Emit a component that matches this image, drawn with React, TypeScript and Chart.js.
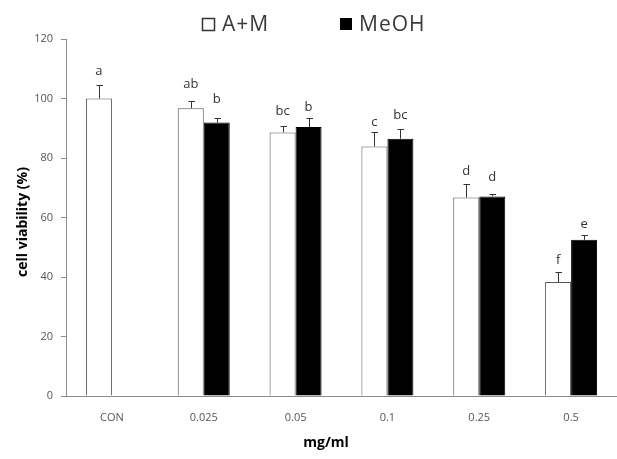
import React, { useEffect, useRef } from "react";
import { Chart, registerables } from "chart.js";

Chart.register(...registerables);

const categories = ["CON", "0.025", "0.05", "0.1", "0.25", "0.5"];
const seriesNames = ["A+M", "MeOH"];
const amValues = [100, 96.7, 88.6, 83.9, 66.7, 38.3];
const amErrors = [4.4, 2.3, 2.0, 4.7, 4.5, 3.5];
const meohValues = [null, 91.9, 90.4, 86.5, 67.1, 52.5];
const meohErrors = [null, 1.7, 3.2, 3.4, 0.8, 1.7];
const amLetters = ["a", "ab", "bc", "c", "d", "f"];
const meohLetters = [null, "b", "b", "bc", "d", "e"];
const amLetterAt = [109.3, 104.8, 95.6, 91.9, 75.4, 45.5];
const meohLetterAt = [null, 99.9, 96.9, 94.5, 73.4, 57.8];
const yMin = 0;
const yMax = 120;
const yStep = 20;
const yTitle = "cell viability (%)";
const xTitle = "mg/ml";

const FONT = "'Open Sans', 'Noto Sans', sans-serif";

const annotatePlugin = {
  id: "annotate",
  afterDatasetsDraw(chart: any) {
    const ctx = chart.ctx;
    const ys = chart.scales.y;
    const sets: any[] = [
      [amValues, amErrors, amLetters, amLetterAt],
      [meohValues, meohErrors, meohLetters, meohLetterAt],
    ];
    ctx.save();
    sets.forEach(([vals, errs, letters, at], di) => {
      const meta = chart.getDatasetMeta(di);
      meta.data.forEach((bar: any, i: number) => {
        const v = vals[i];
        if (v == null) return;
        const x = Math.round(bar.x) + 0.5;
        const top = ys.getPixelForValue(v);
        const cap = Math.round(ys.getPixelForValue(v + errs[i])) + 0.5;
        ctx.strokeStyle = "#333333";
        ctx.lineWidth = 1;
        ctx.beginPath();
        ctx.moveTo(x, top);
        ctx.lineTo(x, cap);
        ctx.moveTo(x - 3, cap);
        ctx.lineTo(x + 3.5, cap);
        ctx.stroke();
        if (letters[i]) {
          ctx.fillStyle = "#333333";
          ctx.font = `13px ${FONT}`;
          ctx.textAlign = "center";
          ctx.textBaseline = "middle";
          ctx.fillText(letters[i], bar.x, ys.getPixelForValue(at[i]));
        }
      });
    });
    ctx.restore();
  },
  afterDraw(chart: any) {
    const ctx = chart.ctx;
    ctx.save();
    // legend
    ctx.font = `21px ${FONT}`;
    try {
      (ctx as any).letterSpacing = "1px";
    } catch (e) {}
    ctx.textBaseline = "middle";
    ctx.textAlign = "left";
    ctx.fillStyle = "#ffffff";
    ctx.strokeStyle = "#333333";
    ctx.lineWidth = 1.5;
    ctx.fillRect(202.5, 18.5, 12, 12);
    ctx.strokeRect(202.5, 18.5, 12, 12);
    ctx.fillStyle = "#3a3a3a";
    ctx.fillText(seriesNames[0], 222, 25);
    ctx.fillStyle = "#000000";
    ctx.fillRect(340, 18, 12, 12);
    ctx.fillStyle = "#3a3a3a";
    ctx.fillText(seriesNames[1], 359, 25);
    try {
      (ctx as any).letterSpacing = "0px";
    } catch (e) {}
    // axis titles
    ctx.fillStyle = "#000000";
    ctx.font = `bold 14px ${FONT}`;
    ctx.textAlign = "center";
    ctx.fillText(xTitle, 326, 443);
    ctx.translate(23, 222);
    ctx.rotate(-Math.PI / 2);
    ctx.fillText(yTitle, 0, 0);
    ctx.restore();
  },
};

export default function App() {
  const ref = useRef<HTMLCanvasElement | null>(null);
  useEffect(() => {
    if (!ref.current) return;
    const chart = new Chart(ref.current, {
      type: "bar",
      data: {
        labels: categories,
        datasets: [
          {
            label: seriesNames[0],
            data: amValues,
            backgroundColor: "#ffffff",
            borderColor: "#555555",
            borderWidth: 1,
            categoryPercentage: 0.566,
            barPercentage: 1,
          },
          {
            label: seriesNames[1],
            data: meohValues as any,
            backgroundColor: "#000000",
            borderColor: "#000000",
            borderWidth: 1,
            categoryPercentage: 0.566,
            barPercentage: 1,
          },
        ],
      },
      options: {
        animation: false,
        responsive: false,
        devicePixelRatio: 1,
        layout: { padding: { top: 39, left: 0, right: 0, bottom: 0 } },
        plugins: { legend: { display: false }, tooltip: { enabled: false } },
        scales: {
          x: {
            afterFit: (s: any) => {
              s.height = 63;
            },
            grid: { display: false, drawTicks: false },
            border: { display: true, color: "#8c8c8c", width: 1 },
            ticks: { color: "#555555", font: { size: 11, family: FONT }, padding: 15 },
          },
          y: {
            min: yMin,
            max: yMax,
            afterFit: (s: any) => {
              s.width = 66;
            },
            grid: { drawOnChartArea: false, drawTicks: true, tickLength: 5, color: "#8c8c8c" },
            border: { display: true, color: "#8c8c8c", width: 1 },
            ticks: { stepSize: yStep, color: "#555555", font: { size: 11, family: FONT }, padding: 8 },
          },
        },
      },
      plugins: [annotatePlugin],
    });
    return () => chart.destroy();
  }, []);
  return (
    <div style={{ position: "absolute", left: 0, top: 0, width: 617, height: 459, background: "#fff" }}>
      <canvas ref={ref} width={617} height={459} />
    </div>
  );
}
